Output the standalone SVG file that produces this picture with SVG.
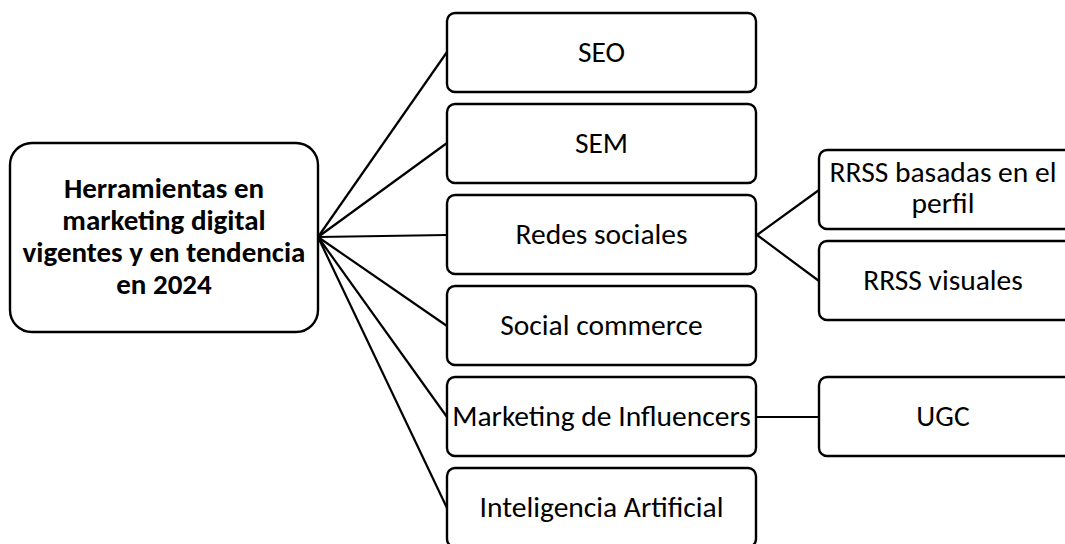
<svg xmlns="http://www.w3.org/2000/svg" width="1065" height="544" viewBox="0 0 1065 544">
<style>
.box{fill:#fff;stroke:#000;stroke-width:2.4}
.t{font-family:Carlito,"Liberation Sans",sans-serif;font-size:29.5px;fill:#000;text-anchor:middle}
.b{font-family:Carlito,"Liberation Sans",sans-serif;font-size:29px;font-weight:bold;fill:#000;text-anchor:middle}
.c{stroke:#000;stroke-width:2.2;fill:none}
</style>
<rect width="1065" height="544" fill="#fff"/>
<g id="connectors">
<line class="c" x1="318" y1="237" x2="447" y2="52"/>
<line class="c" x1="318" y1="237" x2="447" y2="143"/>
<line class="c" x1="318" y1="237" x2="447" y2="235"/>
<line class="c" x1="318" y1="237" x2="447" y2="326"/>
<line class="c" x1="318" y1="237" x2="447" y2="417"/>
<line class="c" x1="318" y1="237" x2="447" y2="508"/>
<line class="c" x1="757" y1="235" x2="819" y2="190"/>
<line class="c" x1="757" y1="235" x2="819" y2="281"/>
<line class="c" x1="757" y1="417" x2="819" y2="417"/>
</g>
<g id="root">
<rect class="box" x="10" y="143" width="308" height="189" rx="22"/>
<text class="b" x="164" y="198">Herramientas en</text>
<text class="b" x="164" y="230">marketing digital</text>
<text class="b" x="164" y="262">vigentes y en tendencia</text>
<text class="b" x="164" y="294">en 2024</text>
</g>
<g id="seo"><rect class="box" x="447" y="13" width="309" height="79" rx="8"/><text class="t" x="601.5" y="62">SEO</text></g>
<g id="sem"><rect class="box" x="447" y="104" width="309" height="79" rx="8"/><text class="t" x="601.5" y="153">SEM</text></g>
<g id="redes"><rect class="box" x="447" y="195" width="309" height="79" rx="8"/><text class="t" x="601.5" y="244">Redes sociales</text></g>
<g id="commerce"><rect class="box" x="447" y="286" width="309" height="79" rx="8"/><text class="t" x="601.5" y="335">Social commerce</text></g>
<g id="influencers"><rect class="box" x="447" y="377" width="309" height="79" rx="8"/><text class="t" x="601.5" y="426">Marketing de Influencers</text></g>
<g id="ia"><rect class="box" x="447" y="468" width="309" height="79" rx="8"/><text class="t" x="601.5" y="517">Inteligencia Artificial</text></g>
<g id="rrss-perfil"><rect class="box" x="819" y="150" width="309" height="79" rx="8"/><text class="t" x="943" y="182">RRSS basadas en el</text><text class="t" x="943" y="213">perfil</text></g>
<g id="rrss-visuales"><rect class="box" x="819" y="241" width="309" height="79" rx="8"/><text class="t" x="943" y="290">RRSS visuales</text></g>
<g id="ugc"><rect class="box" x="819" y="377" width="309" height="79" rx="8"/><text class="t" x="943" y="426">UGC</text></g>
</svg>
